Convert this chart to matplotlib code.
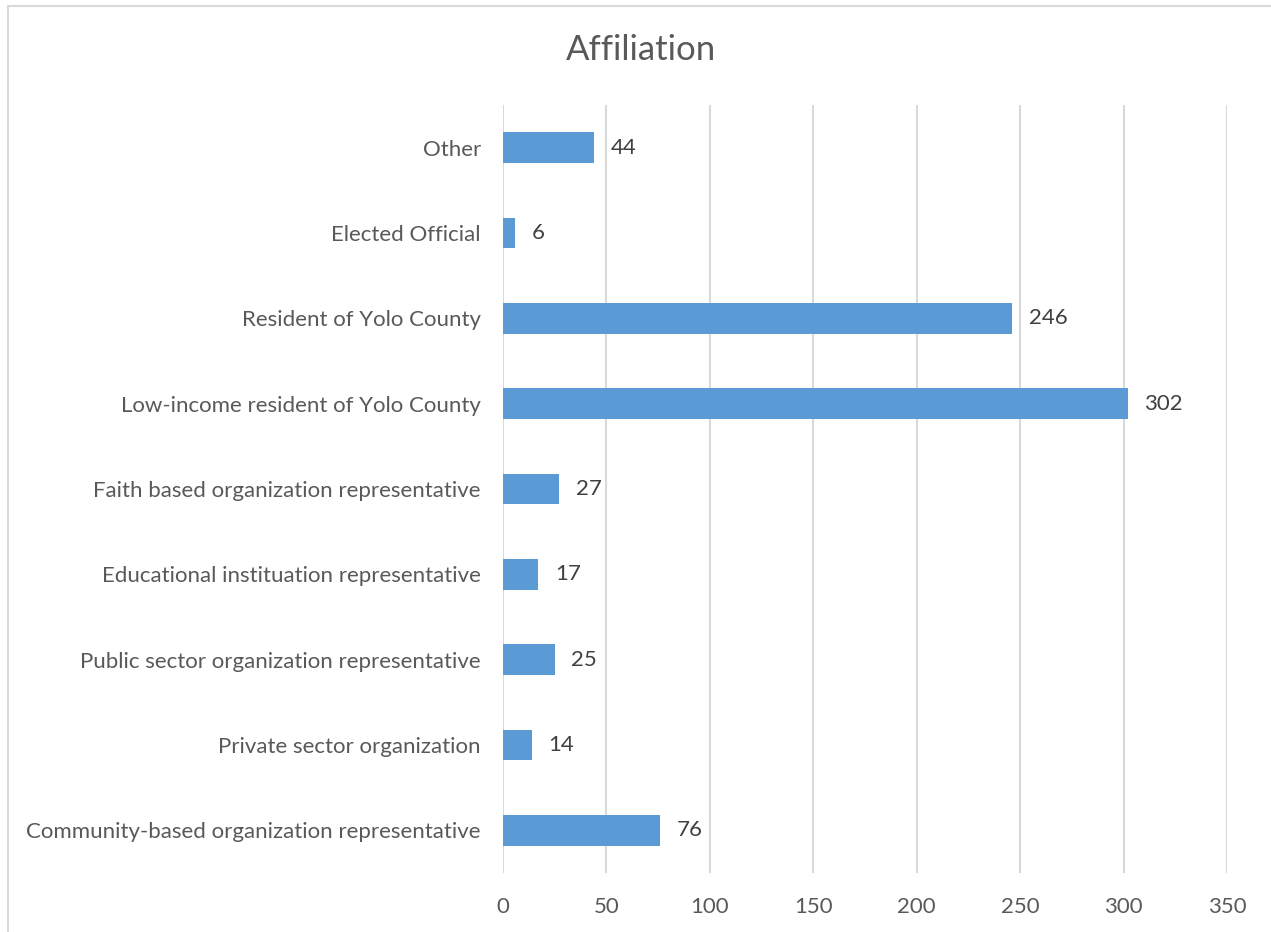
import matplotlib
matplotlib.use("Agg")
import matplotlib.pyplot as plt
from matplotlib.patches import Rectangle

categories = ["Community-based organization representative",
              "Private sector organization",
              "Public sector organization representative",
              "Educational instituation representative",
              "Faith based organization representative",
              "Low-income resident of Yolo County",
              "Resident of Yolo County",
              "Elected Official",
              "Other"]
counts = [76, 14, 25, 17, 27, 302, 246, 6, 44]
xticks = [0, 50, 100, 150, 200, 250, 300, 350]

plt.rcParams['font.family'] = ['Lato', 'DejaVu Sans']
grey = '#595959'

fig = plt.figure(figsize=(12.71, 9.32), dpi=100)
ax = fig.add_axes([503/1271, 1 - 873/932, (1227 - 503)/1271, (873 - 105)/932])

# outer chart border (right/bottom fall outside the image)
fig.patches.append(Rectangle((8/1271, -0.01), 1.0, 1 - 6/932 + 0.01,
                             transform=fig.transFigure, fill=False,
                             edgecolor='#d9d9d9', linewidth=1.5))

ypos = range(len(categories))
ax.barh(ypos, counts, height=0.36, color='#5b9bd5', zorder=3)
for y, v in zip(ypos, counts):
    ax.annotate(str(v), (v, y), xytext=(12, 0), textcoords='offset points',
                va='center', ha='left', fontsize=16, color='#404040')

ax.set_xlim(0, 350)
ax.set_ylim(-0.5, len(categories) - 0.5)
ax.set_xticks(xticks)
ax.set_yticks(list(ypos))
ax.set_yticklabels(categories)
ax.tick_params(axis='both', length=0, labelsize=16, colors=grey)
ax.tick_params(axis='y', pad=16)
ax.tick_params(axis='x', pad=17)
ax.grid(axis='x', color='#d9d9d9', linewidth=1.5, zorder=0)
for s in ax.spines.values():
    s.set_visible(False)

fig.text(641/1271, 1 - 50/932, 'Affiliation', ha='center', va='center',
         fontsize=25, color=grey)

fig.savefig('out.png', dpi=100)
